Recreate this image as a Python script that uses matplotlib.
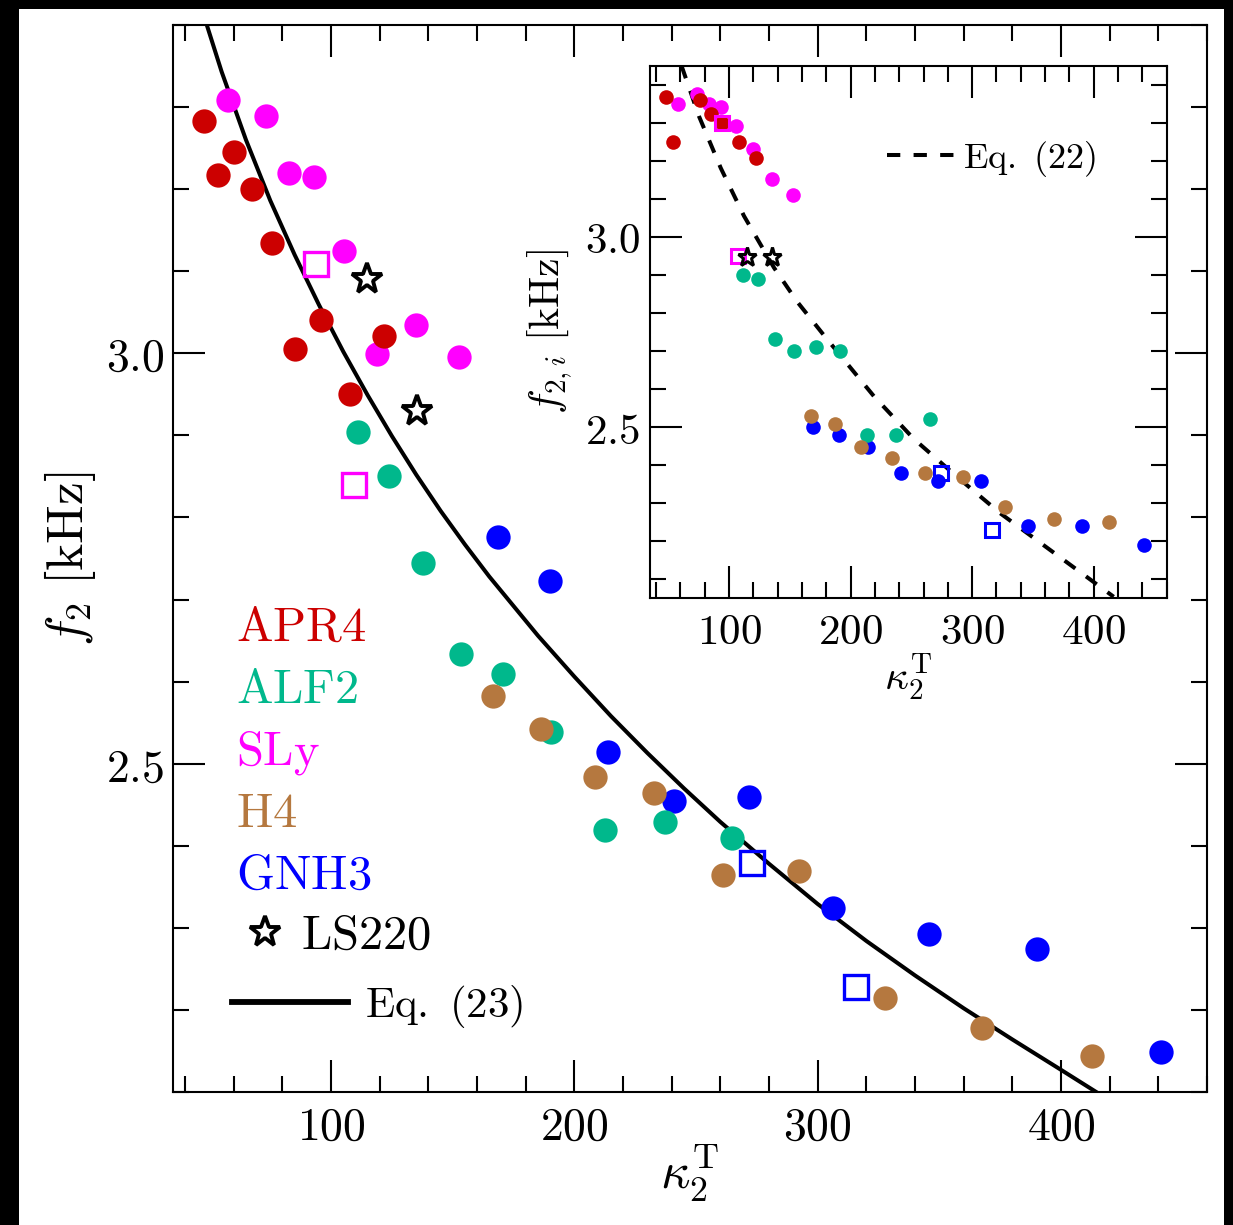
import matplotlib
matplotlib.use("Agg")
import matplotlib.pyplot as plt
from matplotlib.lines import Line2D
from matplotlib.patches import Rectangle
from matplotlib.ticker import MultipleLocator

plt.rcParams['mathtext.fontset'] = 'cm'
plt.rcParams['font.family'] = ['DejaVu Serif']

# ---------------- data ----------------
eos_names = ['APR4', 'ALF2', 'SLy', 'H4', 'GNH3']
eos_colors = {'APR4': '#CC0000', 'ALF2': '#00B88C', 'SLy': '#FF00FF',
              'H4': '#B5783F', 'GNH3': '#0000FF'}

# main panel: f2 [kHz] versus kappa_2^T
apr4_k = [47.8, 53.5, 60.1, 67.5, 75.7, 85.2, 95.9, 107.8, 121.8]
apr4_f = [3.283, 3.217, 3.245, 3.200, 3.135, 3.005, 3.040, 2.950, 3.021]
sly_k = [57.8, 73.2, 82.6, 93.1, 105.1, 118.8, 134.7, 152.5]
sly_f = [3.309, 3.289, 3.220, 3.215, 3.125, 2.999, 3.034, 2.995]
sly_sq_k = [93.7, 109.2]
sly_sq_f = [3.109, 2.839]
alf2_k = [111.0, 123.6, 137.7, 153.3, 170.8, 190.3, 212.5, 237.1, 264.8]
alf2_f = [2.904, 2.850, 2.744, 2.634, 2.609, 2.539, 2.419, 2.429, 2.409]
h4_k = [166.6, 186.2, 208.4, 232.9, 261.1, 292.3, 327.5, 367.4, 412.8]
h4_f = [2.583, 2.542, 2.484, 2.464, 2.364, 2.369, 2.214, 2.178, 2.144]
gnh3_k = [168.4, 189.8, 213.9, 241.0, 271.6, 306.1, 345.6, 390.2, 441.0]
gnh3_f = [2.776, 2.722, 2.514, 2.454, 2.459, 2.324, 2.293, 2.274, 2.149]
gnh3_sq_k = [273.0, 315.9]
gnh3_sq_f = [2.379, 2.228]
ls220_k = [114.7, 135.2]
ls220_f = [3.090, 2.930]

# Eq. (23) curve
eq23_k = [48.9, 55, 65, 75, 85, 95, 105, 115, 125, 135, 145, 155, 165, 175, 185,
          200, 215, 230, 245, 260, 280, 300, 320, 340, 360, 380, 400, 415]
eq23_f = [3.400, 3.343, 3.260, 3.186, 3.120, 3.059, 3.002, 2.949, 2.899, 2.852,
          2.808, 2.767, 2.728, 2.692, 2.656, 2.606, 2.558, 2.513, 2.470, 2.429,
          2.378, 2.329, 2.284, 2.242, 2.202, 2.164, 2.127, 2.099]

# inset: f_{2,i} [kHz] versus kappa_2^T
in_apr4_k = [48.0, 54.3, 76.2, 85.0, 94.6, 108.5, 122.5]
in_apr4_f = [3.369, 3.249, 3.359, 3.322, 3.300, 3.249, 3.208]
in_sly_k = [58.1, 73.5, 83.6, 93.8, 106.1, 119.7, 135.1, 152.9]
in_sly_f = [3.350, 3.375, 3.350, 3.341, 3.291, 3.231, 3.151, 3.110]
in_sly_sq_k = [94.6, 107.4]
in_sly_sq_f = [3.300, 2.949]
in_alf2_k = [111.5, 123.8, 137.8, 153.7, 171.3, 191.0, 213.2, 237.6, 265.2]
in_alf2_f = [2.899, 2.889, 2.731, 2.700, 2.710, 2.700, 2.479, 2.479, 2.520]
in_h4_k = [167.1, 186.9, 208.5, 233.7, 261.1, 292.6, 327.4, 367.7, 412.9]
in_h4_f = [2.529, 2.509, 2.449, 2.419, 2.379, 2.370, 2.290, 2.259, 2.250]
in_gnh3_k = [168.8, 190.2, 214.6, 241.7, 272.1, 306.9, 345.7, 390.4, 441.4]
in_gnh3_f = [2.499, 2.479, 2.449, 2.379, 2.359, 2.359, 2.239, 2.241, 2.189]
in_gnh3_sq_k = [274.0, 316.5]
in_gnh3_sq_f = [2.379, 2.230]
in_ls220_k = [115.1, 135.7]
in_ls220_f = [2.948, 2.948]

# Eq. (22) curve
eq22_k = [60.9, 75.3, 93.2, 112.3, 137.0, 156.2, 180.9, 219.2, 252.0, 287.7,
          323.3, 367.1, 416.4]
eq22_f = [3.450, 3.317, 3.181, 3.055, 2.919, 2.829, 2.730, 2.581, 2.469, 2.369,
          2.273, 2.170, 2.054]

x_ticks = [100, 200, 300, 400]
x_tick_labels = ['100', '200', '300', '400']
y_ticks = [2.5, 3.0]
y_tick_labels = ['2.5', '3.0']

main_xlim = (35, 460)
main_ylim = (2.1, 3.4)
inset_ylim = (2.05, 3.45)

# ---------------- figure ----------------
W, H = 1233, 1225
fig = plt.figure(figsize=(W / 100, H / 100), dpi=100)
fig.patch.set_facecolor('white')


def style_axes(ax, fs):
    for s in ax.spines.values():
        s.set_linewidth(1.5)
    ax.set_xticks(x_ticks, labels=[f'${t}$' for t in x_tick_labels])
    ax.set_yticks(y_ticks, labels=[f'${t}$' for t in y_tick_labels])
    ax.xaxis.set_minor_locator(MultipleLocator(20))
    ax.yaxis.set_minor_locator(MultipleLocator(0.1))
    ax.tick_params(which='both', direction='in', top=True, right=True,
                   width=1.5, labelsize=fs)
    ax.tick_params(which='major', length=23)
    ax.tick_params(which='minor', length=11.5)


# main axes
ax = fig.add_axes([173 / W, 1 - 1092 / H, (1207 - 173) / W, (1092 - 25) / H])
style_axes(ax, 33)
ax.tick_params(axis='x', pad=9)
ax.tick_params(axis='y', pad=6)
ax.set_xlim(*main_xlim)
ax.set_ylim(*main_ylim)

ms, ms_sq, ms_star = 17.5, 17, 23
ax.plot(sly_k, sly_f, 'o', ms=ms, color=eos_colors['SLy'], mew=0, zorder=3)
ax.plot(apr4_k, apr4_f, 'o', ms=ms, color=eos_colors['APR4'], mew=0, zorder=3)
ax.plot(gnh3_k, gnh3_f, 'o', ms=ms, color=eos_colors['GNH3'], mew=0, zorder=3)
ax.plot(alf2_k, alf2_f, 'o', ms=ms, color=eos_colors['ALF2'], mew=0, zorder=3)
ax.plot(h4_k, h4_f, 'o', ms=ms, color=eos_colors['H4'], mew=0, zorder=3)
ax.plot(sly_sq_k, sly_sq_f, 's', ms=ms_sq, mfc='none', mec=eos_colors['SLy'],
        mew=2.4, zorder=4)
ax.plot(gnh3_sq_k, gnh3_sq_f, 's', ms=ms_sq, mfc='none', mec=eos_colors['GNH3'],
        mew=2.4, zorder=4)
ax.plot(ls220_k, ls220_f, '*', ms=ms_star, mfc='none', mec='black', mew=2.8, zorder=5)
ax.plot(eq23_k, eq23_f, '-', color='black', lw=2.9, zorder=2,
        solid_joinstyle='round')

ax.set_ylabel(r'$f_2\ [\mathrm{kHz}]$', fontsize=37)
ax.yaxis.set_label_coords(-0.073, 0.5)
ax.set_xlabel(r'$\kappa_2^{\mathrm{T}}$', fontsize=37)
ax.xaxis.set_label_coords(0.5, -0.048)

# EOS names
for i, name in enumerate(eos_names):
    ax.text(0.0609, 0.4227 - i * 0.0581, rf'$\mathrm{{{name}}}$', color=eos_colors[name],
            fontsize=35, transform=ax.transAxes, va='baseline', ha='left')

leg1 = ax.legend(handles=[Line2D([], [], marker='*', ls='none', ms=ms_star, mfc='none',
                                 mec='black', mew=2.8)],
                 labels=[r'$\mathrm{LS220}$'], loc='center left',
                 bbox_to_anchor=(0.0681, 0.147), frameon=False, fontsize=35,
                 handlelength=0.89, handletextpad=0.3, borderpad=0, borderaxespad=0)
ax.add_artist(leg1)
ax.legend(handles=[Line2D([], [], color='black', lw=4.2)],
          labels=[r'$\mathrm{Eq.\ (23)}$'], loc='center left',
          bbox_to_anchor=(0.0568, 0.0801), frameon=False, fontsize=31,
          handlelength=2.71, handletextpad=0.39, borderpad=0, borderaxespad=0)

# inset axes
ax2 = fig.add_axes([650 / W, 1 - 598.3 / H, (1166.7 - 650) / W, (598.3 - 65.7) / H])
style_axes(ax2, 31)
ax2.tick_params(axis='x', pad=9.5)
ax2.tick_params(axis='y', pad=7)
ax2.set_xlim(*main_xlim)
ax2.set_ylim(*inset_ylim)

ms_i, ms_i_sq, ms_i_star = 10.5, 10, 14
ax2.plot(in_sly_k, in_sly_f, 'o', ms=ms_i, color=eos_colors['SLy'], mew=0, zorder=3)
ax2.plot(in_apr4_k, in_apr4_f, 'o', ms=ms_i, color=eos_colors['APR4'], mew=0, zorder=3)
ax2.plot(in_gnh3_k, in_gnh3_f, 'o', ms=ms_i, color=eos_colors['GNH3'], mew=0, zorder=3)
ax2.plot(in_alf2_k, in_alf2_f, 'o', ms=ms_i, color=eos_colors['ALF2'], mew=0, zorder=3)
ax2.plot(in_h4_k, in_h4_f, 'o', ms=ms_i, color=eos_colors['H4'], mew=0, zorder=3)
ax2.plot(in_sly_sq_k, in_sly_sq_f, 's', ms=ms_i_sq, mfc='none', mec=eos_colors['SLy'],
         mew=2.2, zorder=4)
ax2.plot(in_gnh3_sq_k, in_gnh3_sq_f, 's', ms=ms_i_sq, mfc='none', mec=eos_colors['GNH3'],
         mew=2.2, zorder=4)
ax2.plot(in_ls220_k, in_ls220_f, '*', ms=ms_i_star, mfc='none', mec='black', mew=2.2,
         zorder=5)
ax2.plot(eq22_k, eq22_f, color='black', lw=2.9, zorder=2,
         dashes=(3.3, 3.3), dash_capstyle='butt')

ax2.set_ylabel(r'$f_{2,i}\ [\mathrm{kHz}]$', fontsize=30)
ax2.yaxis.set_label_coords(-0.147, 0.5)
ax2.set_xlabel(r'$\kappa_2^{\mathrm{T}}$', fontsize=30)
ax2.xaxis.set_label_coords(0.5, -0.10)

ax2.legend(handles=[Line2D([], [], color='black', lw=2.9, dashes=(3.3, 3.3),
                           dash_capstyle='butt')],
           labels=[r'$\mathrm{Eq.\ (22)}$'], loc='center left',
           bbox_to_anchor=((887 - 650) / 516.7, (598.3 - 159) / 532.6), frameon=False,
           fontsize=26, handlelength=2.0, handletextpad=0.11, borderpad=0,
           borderaxespad=0)

# dark frame around the canvas
frame_kw = dict(transform=fig.transFigure, facecolor='black', edgecolor='none', zorder=10)
fig.add_artist(Rectangle((0, 1 - 9 / H), 1, 9 / H, **frame_kw))
fig.add_artist(Rectangle((0, 0), 19 / W, 1, **frame_kw))
fig.add_artist(Rectangle((1224 / W, 0), 9 / W, 1, **frame_kw))

fig.savefig('out.png', dpi=100)
